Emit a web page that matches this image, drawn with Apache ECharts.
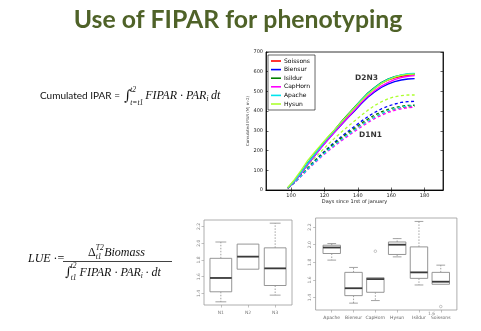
<!DOCTYPE html>
<html><head><meta charset="utf-8">
<script src="https://cdn.jsdelivr.net/npm/echarts@6/dist/echarts.min.js"></script>
<style>html,body{margin:0;padding:0;background:#fff}#c{width:481px;height:331px}</style>
</head><body><div id="c"></div>
<script>
// ---------- DATA ----------
const days = [98,102,106,110,114,118,122,126,130,134,138,142,146,150,154,158,162,166,170,174];
const varieties = ['Soissons','Biensur','Isildur','CapHorn','Apache','Hysun'];
// D2N3 (solid)
const soissonsD2N3 = [10,45,88,135,178,222,262,300,340,378,415,452,487,515,540,557,569,577,582,585];
const biensurD2N3  = [10,43,85,130,172,215,255,292,330,366,400,437,470,497,520,537,550,558,563,565];
const isildurD2N3  = [10,46,90,138,180,225,266,304,345,383,420,457,492,520,545,562,575,583,588,590];
const capHornD2N3  = [10,43,85,130,172,215,255,292,332,368,405,442,476,503,527,545,560,570,577,580];
const apacheD2N3   = [10,45,89,136,179,223,264,302,342,380,417,455,490,518,543,561,574,584,590,592];
const hysunD2N3    = [12,52,100,150,190,230,269,305,343,380,416,452,486,514,540,558,572,581,586,588];
// D1N1 (dashed)
const soissonsD1N1 = [10,37,72,107,141,173,203,231,257,282,306,330,352,371,387,400,410,418,422,425];
const biensurD1N1  = [10,38,75,112,148,180,212,242,270,297,323,348,372,393,411,425,436,444,448,450];
const isildurD1N1  = [10,38,74,110,145,177,208,237,264,290,314,338,360,380,396,409,418,425,429,430];
const capHornD1N1  = [9,35,69,103,136,167,196,223,249,273,297,320,342,362,379,393,404,412,417,420];
const apacheD1N1   = [10,36,71,106,140,171,201,229,255,280,304,328,350,370,387,401,412,420,425,428];
const hysunD1N1    = [10,42,82,122,160,195,230,262,293,322,350,378,405,428,447,462,473,479,482,482];
const lineTicksX = [100,120,140,160,180];
const annotations = [[145.2,568,'D2N3'],[147.6,279,'D1N1']];

// LUE by nitrogen level
const nLevels = ['N1','N2','N3'];
const nLow  = [1.30,1.69,1.38];
const nQ1   = [1.42,1.69,1.495];
const nMed  = [1.585,1.84,1.70];
const nQ3   = [1.82,1.99,1.945];
const nHigh = [2.015,1.99,2.24];
// LUE by variety
const boxVarieties = ['Apache','Biensur','CapHorn','Hysun','Isildur','Soissons'];
const vLow  = [1.825,1.337,1.366,1.862,1.543,1.551];
const vQ1   = [1.90,1.422,1.46,1.889,1.618,1.551];
const vMed  = [1.968,1.506,1.61,2.0,1.686,1.58];
const vQ3   = [1.994,1.686,1.625,2.031,1.975,1.686];
const vHigh = [2.013,1.742,1.625,2.069,2.264,1.768];
const vOutliers = [[3,1.926],[6,1.298]];
const lueTicks = [1.4,1.6,1.8,2.0,2.2];

// ---------- STYLE ----------
const lineColors = {Soissons:'#ff0000',Biensur:'#0000ff',Isildur:'#008000',CapHorn:'#ff00ff',Apache:'#00e5ee',Hysun:'#adff2f'};
const solid = {Soissons:soissonsD2N3,Biensur:biensurD2N3,Isildur:isildurD2N3,CapHorn:capHornD2N3,Apache:apacheD2N3,Hysun:hysunD2N3};
const dashed = {Soissons:soissonsD1N1,Biensur:biensurD1N1,Isildur:isildurD1N1,CapHorn:capHornD1N1,Apache:apacheD1N1,Hysun:hysunD1N1};

const series = [];
varieties.forEach(v => {
  series.push({type:'line', name:v, xAxisIndex:0, yAxisIndex:0, showSymbol:false, symbol:'none',
    data: days.map((d,i)=>[d, solid[v][i]]), lineStyle:{width:1.3, color:lineColors[v]}, itemStyle:{color:lineColors[v]}, z:3});
});
varieties.forEach(v => {
  series.push({type:'line', name:v, xAxisIndex:0, yAxisIndex:0, showSymbol:false, symbol:'none',
    data: days.map((d,i)=>[d, dashed[v][i]]), lineStyle:{width:1.3, color:lineColors[v], type:[3,2.5]}, itemStyle:{color:lineColors[v]}, z:2});
});
series.push({type:'scatter', xAxisIndex:0, yAxisIndex:0, symbolSize:0, data:annotations,
  label:{show:true, position:'inside', formatter:p=>p.data[2], fontSize:7.5, fontWeight:'bold', color:'#000', fontFamily:'DejaVu Sans'}});

const boxGray = '#8a8a8a';
function boxRender(params, api){
  const x = api.value(0);
  const lo = api.coord([x, api.value(1)]), q1 = api.coord([x, api.value(2)]), md = api.coord([x, api.value(3)]),
        q3 = api.coord([x, api.value(4)]), hi = api.coord([x, api.value(5)]);
  const w = api.size([0.8, 0])[0], cx = lo[0];
  const ch = [];
  if (hi[1] < q3[1] - 0.5) {
    ch.push({type:'line', shape:{x1:cx,y1:q3[1],x2:cx,y2:hi[1]}, style:{stroke:boxGray, lineWidth:0.8, lineDash:[1.5,1.5]}});
    ch.push({type:'line', shape:{x1:cx-w/4,y1:hi[1],x2:cx+w/4,y2:hi[1]}, style:{stroke:boxGray, lineWidth:0.8}});
  }
  if (lo[1] > q1[1] + 0.5) {
    ch.push({type:'line', shape:{x1:cx,y1:q1[1],x2:cx,y2:lo[1]}, style:{stroke:boxGray, lineWidth:0.8, lineDash:[1.5,1.5]}});
    ch.push({type:'line', shape:{x1:cx-w/4,y1:lo[1],x2:cx+w/4,y2:lo[1]}, style:{stroke:boxGray, lineWidth:0.8}});
  }
  ch.push({type:'rect', shape:{x:cx-w/2, y:q3[1], width:w, height:q1[1]-q3[1]}, style:{fill:'#fff', stroke:boxGray, lineWidth:0.9}});
  ch.push({type:'line', shape:{x1:cx-w/2,y1:md[1],x2:cx+w/2,y2:md[1]}, style:{stroke:'#3a3a3a', lineWidth:1.8}});
  return {type:'group', children:ch};
}
series.push({type:'custom', xAxisIndex:2, yAxisIndex:2, renderItem:boxRender, encode:{x:0, y:[1,2,3,4,5]},
  data: nLevels.map((n,i)=>[i+1, nLow[i], nQ1[i], nMed[i], nQ3[i], nHigh[i]])});
series.push({type:'custom', xAxisIndex:3, yAxisIndex:3, renderItem:boxRender, encode:{x:0, y:[1,2,3,4,5]},
  data: boxVarieties.map((n,i)=>[i+1, vLow[i], vQ1[i], vMed[i], vQ3[i], vHigh[i]])});
series.push({type:'scatter', xAxisIndex:3, yAxisIndex:3, symbol:'circle', symbolSize:2.6, data:vOutliers,
  itemStyle:{color:'rgba(255,255,255,0)', borderColor:'#888', borderWidth:0.6}});

// ---------- TEXT HELPERS ----------
const mctx = document.createElement('canvas').getContext('2d');
const SERIF = 'Liberation Serif';
function measure(t, size, family, style){ mctx.font = (style||'normal')+' normal '+size+'px "'+family+'"'; return mctx.measureText(t).width; }
function txt(t, x, y, size, family, style, weight, fill, align){
  return {type:'text', x:x, y:y, silent:true, z:100, style:{text:t, fontSize:size, fontFamily:family, fontStyle:style||'normal',
    fontWeight:weight||'normal', fill:fill||'#111', textAlign:align||'left', textVerticalAlign:'middle'}};
}
function flow(pieces, x, y){
  const out = []; let cx = x;
  pieces.forEach(p => {
    const fam = p.f || SERIF, st = p.s || 'italic';
    if (p.sup !== undefined || p.sub !== undefined) {
      let w = 0;
      if (p.sup) { out.push(txt(p.sup, cx, y + p.supDy, p.z, fam, st)); w = Math.max(w, measure(p.sup, p.z, fam, st)); }
      if (p.sub) { out.push(txt(p.sub, cx + (p.subDx||0), y + p.subDy, p.z, fam, st)); w = Math.max(w, measure(p.sub, p.z, fam, st) + (p.subDx||0)); }
      cx += w + (p.gap||0);
    } else {
      out.push(txt(p.t, cx, y + (p.dy||0), p.z, fam, st));
      cx += measure(p.t, p.z, fam, st) + (p.gap||0);
    }
  });
  return out;
}

const graphics = [];
graphics.push(txt('Use of FIPAR for phenotyping', 238, 20, 24.8, 'Lato', 'normal', 'bold', '#4f6228', 'center'));
// Cumulated IPAR formula
graphics.push(...flow([
  {t:'Cumulated IPAR =', z:10, f:'Lato', s:'normal', gap:4},
  {t:'\u222B', z:14, f:'DejaVu Serif', s:'normal', gap:-1},
  {sup:'t2', supDy:-6, sub:'t=t1', subDy:7, z:7.5, subDx:0, gap:2},
  {t:'FIPAR \u00B7 PAR', z:12},
  {t:'i', z:7.5, dy:3, gap:2.5},
  {t:'dt', z:12}
], 40, 96));
// LUE formula
graphics.push(...flow([{t:'LUE \u00B7=', z:12}], 28, 259));
graphics.push(...flow([
  {t:'\u0394', z:12, s:'normal'},
  {sup:'T2', supDy:-5, sub:'t1', subDy:4, z:7.5, gap:0.5},
  {t:'Biomass', z:12}
], 88, 253));
graphics.push({type:'line', silent:true, shape:{x1:63, y1:261.5, x2:172, y2:261.5}, style:{stroke:'#111', lineWidth:0.8}});
graphics.push(...flow([
  {t:'\u222B', z:13, f:'DejaVu Serif', s:'normal', gap:-1},
  {sup:'t2', supDy:-7, sub:'t1', subDy:5, z:7.5, gap:3},
  {t:'FIPAR \u00B7 PAR', z:12},
  {t:'i', z:7.5, dy:3, gap:2.5},
  {t:'\u00B7 dt', z:12}
], 65, 273));
graphics.push(txt('1.6', 428, 314, 4.5, 'DejaVu Sans', 'normal', 'normal', '#888'));

// ---------- CHART ----------
const small = {fontFamily:'DejaVu Sans'};
const option = {
  backgroundColor:'#fff',
  animation:false,
  textStyle:{fontFamily:'DejaVu Sans'},
  grid:[
    {left:266, top:52, width:177, height:138, show:true, borderColor:'#000', borderWidth:0.8, backgroundColor:'#fff'},
    {left:204, top:220, width:88, height:85, show:true, borderColor:'#999', borderWidth:0.8},
    {left:315.6, top:218, width:141.3, height:92, show:true, borderColor:'#999', borderWidth:0.8}
  ],
  legend:{data:varieties, orient:'vertical', left:268, top:55, itemWidth:10, itemHeight:1.6, itemGap:2.6, icon:'rect',
    selectedMode:false, padding:[3,5,3,3], borderColor:'#000', borderWidth:0.6, backgroundColor:'#fff',
    textStyle:{fontSize:6, color:'#000', fontFamily:'DejaVu Sans', padding:[0,0,0,-2]}},
  xAxis:[
    {type:'value', gridIndex:0, min:85, max:191, axisLine:{show:true, lineStyle:{color:'#000', width:0.8}},
      axisTick:{show:true, inside:true, length:2.5, customValues:lineTicksX, lineStyle:{color:'#000', width:0.6}},
      axisLabel:{customValues:lineTicksX, fontSize:5, color:'#222', margin:3, ...small}, splitLine:{show:false},
      name:'Days since 1rst of january', nameLocation:'middle', nameGap:8, nameTextStyle:{fontSize:5, color:'#222', ...small}},
    {type:'value', gridIndex:0, position:'top', min:85, max:191, axisLine:{show:true, lineStyle:{color:'#000', width:0.8}},
      axisTick:{show:true, inside:true, length:2.5, customValues:lineTicksX, lineStyle:{color:'#000', width:0.6}},
      axisLabel:{show:false}, splitLine:{show:false}},
    {type:'value', gridIndex:1, min:0.38, max:3.62, axisLine:{show:false},
      axisTick:{show:true, length:2.5, customValues:[1,2,3], lineStyle:{color:'#999', width:0.6}},
      axisLabel:{customValues:[1,2,3], formatter:v=>nLevels[Math.round(v)-1], fontSize:4.5, color:'#777', margin:5, ...small}, splitLine:{show:false}},
    {type:'value', gridIndex:2, min:0.26, max:6.74, axisLine:{show:false},
      axisTick:{show:true, length:2.5, customValues:[1,2,3,4,5,6], lineStyle:{color:'#999', width:0.6}},
      axisLabel:{customValues:[1,2,3,4,5,6], formatter:v=>boxVarieties[Math.round(v)-1], fontSize:4.5, color:'#666', margin:5, ...small}, splitLine:{show:false}}
  ],
  yAxis:[
    {type:'value', gridIndex:0, min:0, max:700, interval:100, axisLine:{show:true, lineStyle:{color:'#000', width:0.8}},
      axisTick:{show:true, inside:true, length:2.5, lineStyle:{color:'#000', width:0.6}},
      axisLabel:{fontSize:5, color:'#222', margin:3, ...small}, splitLine:{show:false},
      name:'Cumulated IPAR (MJ m-2)', nameLocation:'middle', nameGap:12, nameTextStyle:{fontSize:4, color:'#444', ...small}},
    {type:'value', gridIndex:0, position:'right', min:0, max:700, interval:100, axisLine:{show:true, lineStyle:{color:'#000', width:0.8}},
      axisTick:{show:true, inside:true, length:2.5, lineStyle:{color:'#000', width:0.6}}, axisLabel:{show:false}, splitLine:{show:false}},
    {type:'value', gridIndex:1, min:1.262, max:2.278, axisLine:{show:false},
      axisTick:{show:true, length:2.5, customValues:lueTicks, lineStyle:{color:'#999', width:0.6}},
      axisLabel:{customValues:lueTicks, formatter:v=>v.toFixed(1), rotate:90, fontSize:4.5, color:'#888', margin:3, ...small}, splitLine:{show:false}},
    {type:'value', gridIndex:2, min:1.259, max:2.303, axisLine:{show:false},
      axisTick:{show:true, length:2.5, customValues:lueTicks, lineStyle:{color:'#999', width:0.6}},
      axisLabel:{customValues:lueTicks, formatter:v=>v.toFixed(1), rotate:90, fontSize:4.5, color:'#888', margin:3, ...small}, splitLine:{show:false}}
  ],
  series: series,
  graphic: graphics
};
const chart = echarts.init(document.getElementById('c'));
chart.setOption(option);
</script></body></html>
